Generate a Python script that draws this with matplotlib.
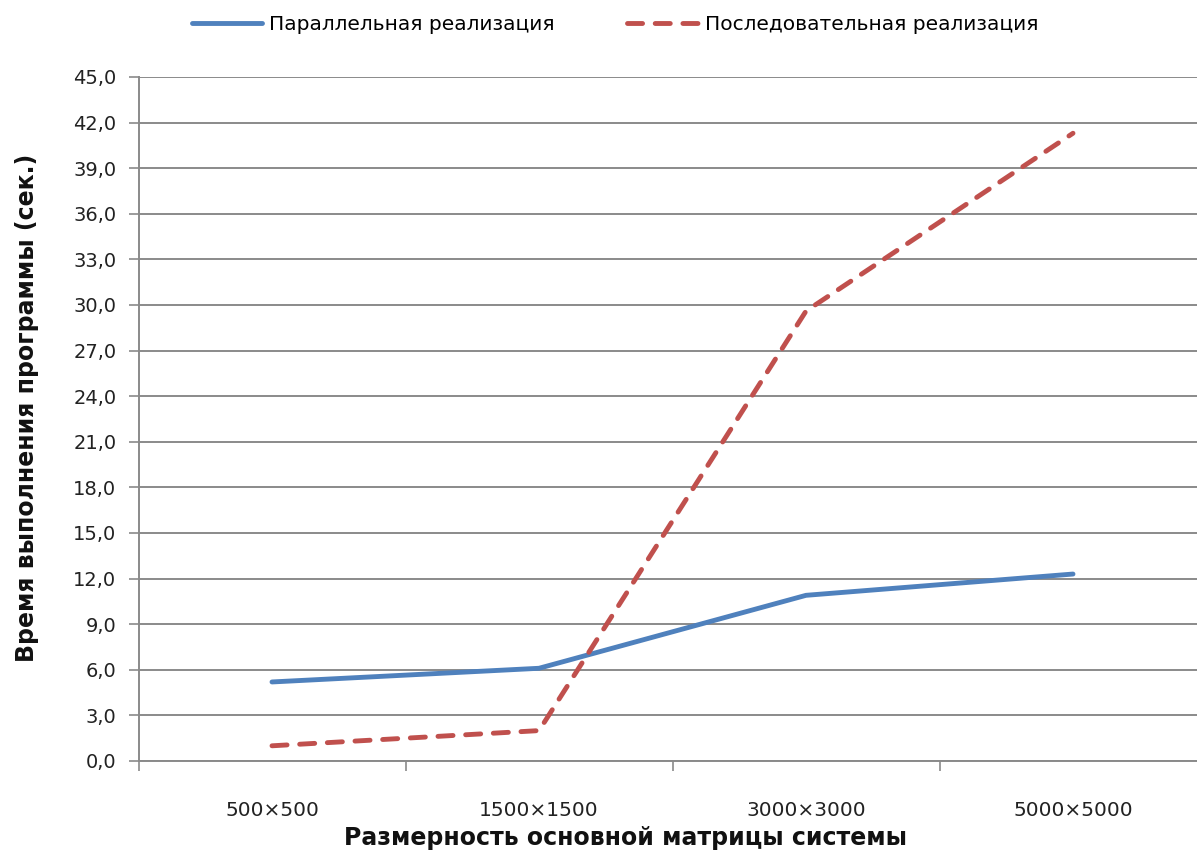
import matplotlib
matplotlib.use("Agg")
import matplotlib.pyplot as plt
from matplotlib.ticker import FixedLocator

# Matrix sizes and run times (seconds)
categories = ["500×500", "1500×1500", "3000×3000", "5000×5000"]
parallel_times = [5.2, 6.1, 10.9, 12.3]
sequential_times = [1.0, 2.0, 29.6, 41.3]
series_labels = ["Параллельная реализация", "Последовательная реализация"]
y_ticks = [0, 3, 6, 9, 12, 15, 18, 21, 24, 27, 30, 33, 36, 39, 42, 45]

W, H = 1197, 852
fig = plt.figure(figsize=(W / 100, H / 100), dpi=100)
fig.patch.set_facecolor("white")

left_px, right_px, top_px, bottom_px = 138.5, 1206.5, 77, 761
ax = fig.add_axes([left_px / W, 1 - bottom_px / H,
                   (right_px - left_px) / W, (bottom_px - top_px) / H])

grid_color = "#8a8a8a"
blue = "#4F81BD"
red = "#C0504D"

x = list(range(len(categories)))
ax.plot(x, parallel_times, color=blue, lw=3.5, solid_capstyle="round",
        solid_joinstyle="round", label=series_labels[0], zorder=3)
ax.plot(x, sequential_times, color=red, lw=3.5, linestyle=(0, (3.1, 2.6)),
        dash_capstyle="round", dash_joinstyle="round",
        label=series_labels[1], zorder=3)

ax.set_xlim(-0.5, len(categories) - 0.5)
ax.set_ylim(0, 45)

# y axis: comma decimal labels, horizontal gridlines
ax.yaxis.set_major_locator(FixedLocator(y_ticks))
ax.set_yticklabels([f"{v:.1f}".replace(".", ",") for v in y_ticks])
ax.yaxis.grid(True, color=grid_color, lw=1.4)
ax.set_axisbelow(True)
ax.tick_params(axis="y", length=7, width=1.2, color=grid_color, pad=9,
               labelsize=14, labelcolor="#222222")

# x axis: category labels centred, tick marks on category boundaries
ax.set_xticks(x)
ax.set_xticklabels(categories)
ax.xaxis.set_minor_locator(FixedLocator([i - 0.5 for i in range(len(categories) + 1)]))
ax.tick_params(axis="x", which="major", length=0, pad=29, labelsize=14.5,
               labelcolor="#222222")
ax.tick_params(axis="x", which="minor", length=7, width=1.2, color=grid_color)

for side in ("top", "right"):
    ax.spines[side].set_visible(False)
for side in ("left", "bottom"):
    ax.spines[side].set_color(grid_color)
    ax.spines[side].set_linewidth(1.4)

fig.text(626 / W, 1 - 838 / H, "Размерность основной матрицы системы",
         ha="center", va="center", fontsize=17, fontweight="bold",
         color="#111111")
fig.text(27 / W, 1 - 408 / H, "Время выполнения программы (сек.)",
         ha="center", va="center", rotation=90, fontsize=17,
         fontweight="bold", color="#111111")

fig.legend(loc="center", bbox_to_anchor=(615 / W, 1 - 25 / H), ncol=2,
           frameon=False, fontsize=14.5, handlelength=3.5, handletextpad=0.35,
           columnspacing=3.6)

fig.savefig("out.png", dpi=100, facecolor="white")
